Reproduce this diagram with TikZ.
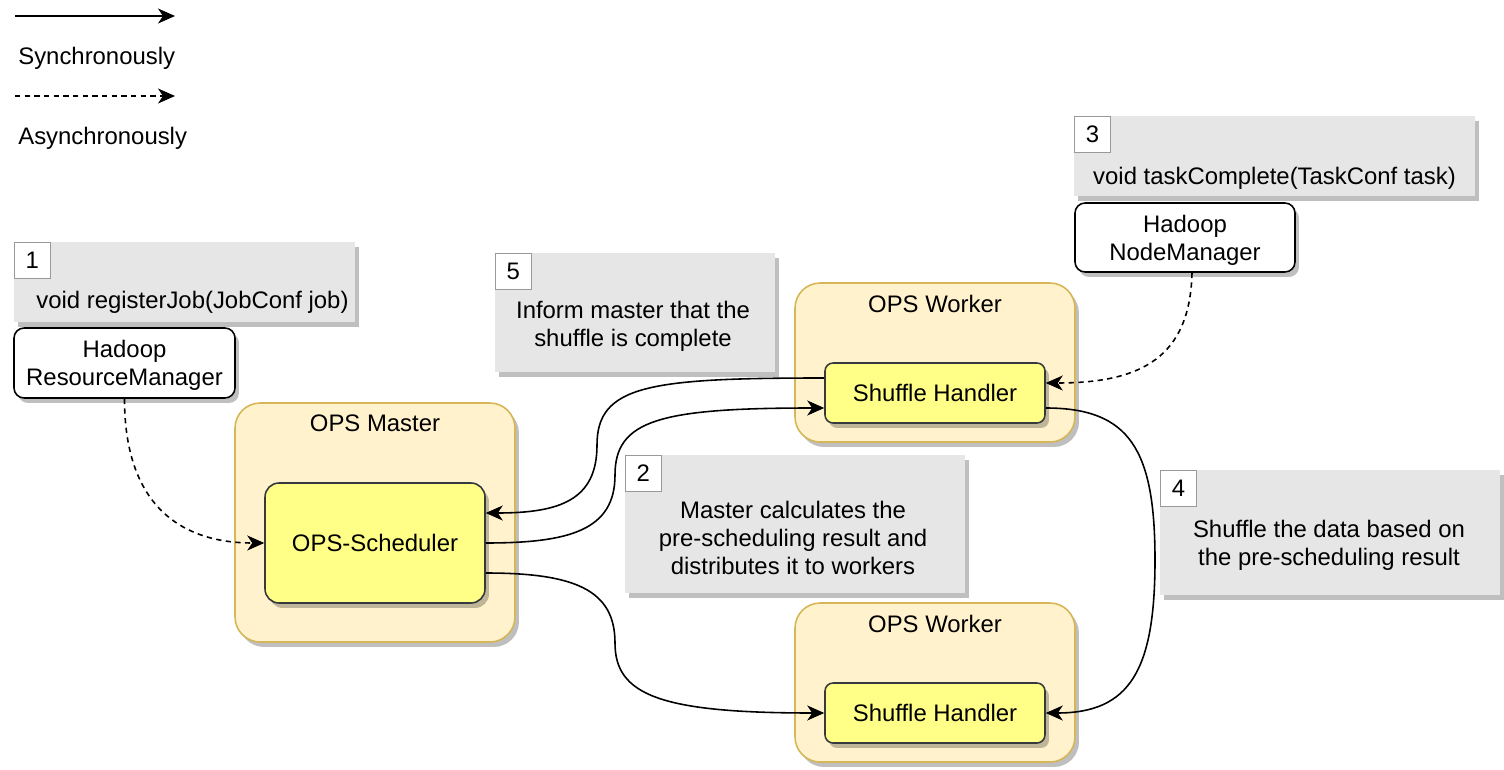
\documentclass[tikz,border=0pt]{standalone}
\usepackage{fontspec}
\setmainfont{Liberation Sans}
\usetikzlibrary{positioning, calc, shadows, arrows.meta}

\definecolor{boxfill}{HTML}{FFF2CC}
\definecolor{boxline}{HTML}{D6B656}
\definecolor{corefill}{HTML}{FFFF88}
\definecolor{coreline}{HTML}{36393D}
\definecolor{notefill}{HTML}{E6E6E6}

\tikzset{
    shade/.style={general shadow={fill=black, opacity=0.25, shadow xshift=0.08cm, shadow yshift=-0.1cm}},
    note/.style={rectangle, fill=notefill, shade, inner sep=0pt},
    numbox/.style={rectangle, draw=gray!80, fill=white, line width=0.8pt, minimum size=0.72cm, inner sep=0pt, anchor=north west},
    notetext/.style={align=center, inner sep=0pt},
    host/.style={rectangle, rounded corners=0.2cm, draw=black, fill=white, line width=0.9pt, shade, align=center, text height=28.8pt, minimum width=4.42cm, minimum height=1.4cm},
    container/.style={rectangle, rounded corners=0.5cm, draw=boxline, fill=boxfill, line width=0.9pt, shade, minimum width=5.6cm},
    title/.style={anchor=center, yshift=-0.43cm, inner sep=0pt},
    core/.style={rectangle, draw=coreline, fill=corefill, line width=0.9pt, shade, minimum width=4.4cm},
    sync/.style={line width=0.9pt, -{Stealth[length=0.34cm, width=0.3cm, inset=0.1cm]}},
    async/.style={sync, dash pattern=on 3pt off 2.5pt},
}

\begin{document}
\begin{tikzpicture}[x=0.02cm, y=-0.02cm, font=\fontsize{13.6}{15.9}\selectfont]
        \useasboundingbox (0,0) rectangle (1504,770);

        % legend
        \coordinate (s0) at (15,16);
        \coordinate (s1) at (175,16);
        \coordinate (a0) at (15,96);
        \coordinate (a1) at (175,96);
        \draw[sync] (s0) -- (s1);
        \draw[async] (a0) -- (a1);
        \node[anchor=west, inner sep=0pt] (synctxt) at (18,58) {Synchronously};
        \node[anchor=west, inner sep=0pt] (asynctxt) at (18,138) {Asynchronously};

        % the notes
        \node[note, minimum width=6.82cm, minimum height=1.6cm] (n1) at (184.5,282) {};
        \node[numbox] (k1) at (n1.north west) {1};
        \node[notetext] (t1) at ($ (n1.center)+(8,20) $) {void registerJob(JobConf job)};

        \node[note, minimum width=5.6cm, minimum height=2.38cm] (n5) at (635,312.5) {};
        \node[numbox] (k5) at (n5.north west) {5};
        \node[notetext] (t5) at ($ (n5.center)+(-2,13.5) $) {Inform master that the\\shuffle is complete};

        \node[note, minimum width=8.02cm, minimum height=1.6cm] (n3) at (1274.5,156) {};
        \node[numbox] (k3) at (n3.north west) {3};
        \node[notetext] (t3) at ($ (n3.center)+(0,22) $) {void taskComplete(TaskConf task)};

        \node[note, minimum width=6.8cm, minimum height=2.76cm] (n2) at (795,524) {};
        \node[numbox] (k2) at (n2.north west) {2};
        \node[notetext] (t2) at ($ (n2.center)+(-2,14) $) {Master calculates the\\pre-scheduling result and\\distributes it to workers};

        \node[note, minimum width=6.8cm, minimum height=2.5cm] (n4) at (1330,532.5) {};
        \node[numbox] (k4) at (n4.north west) {4};
        \node[notetext] (t4) at ($ (n4.center)+(-1,12.5) $) {Shuffle the data based on\\the pre-scheduling result};

        % hadoop side
        \node[host] (rm) at (124.5,363) {Hadoop\\ResourceManager};
        \node[host, minimum width=4.4cm, minimum height=1.38cm] (nm) at (1185,237.5) {Hadoop\\NodeManager};

        % master and workers
        \node[container, minimum height=4.78cm, label={[title]north:OPS Master}] (mst) at (375,522.5) {};
        \node[core, rounded corners=0.28cm, minimum height=2.4cm] (sch) at (375,543) {OPS-Scheduler};

        \node[container, minimum height=3.18cm, label={[title]north:OPS Worker}] (w1) at (935,362.5) {};
        \node[core, rounded corners=0.16cm, minimum height=1.2cm] (sh1) at (935,393) {Shuffle Handler};

        \node[container, minimum height=3.18cm, label={[title]north:OPS Worker}] (w2) at (935,682.5) {};
        \node[core, rounded corners=0.16cm, minimum height=1.2cm] (sh2) at (935,713) {Shuffle Handler};

        % asynchronous calls
        \draw[async] (rm.south) .. controls ($ (rm.south)+(0,105) $) and ($ (sch.west)+(-85,0) $) .. (sch.west);
        \draw[async] ($ (nm.south)+(7,0) $) .. controls ($ (nm.south)+(5,85) $) and ($ (sh1.east)+(95,-10) $) .. ($ (sh1.east)+(0,-10) $);

        % synchronous calls
        \draw[sync] ($ (sh1.west)+(0,-15) $) .. controls (650,378) and (597,385) .. (597,445)
                    .. controls (597,500) and (560,513) .. ($ (sch.east)+(0,-30) $);
        \draw[sync] (sch.east) .. controls (570,543) and (615,530) .. (615,475)
                    .. controls (615,420) and (660,408) .. ($ (sh1.west)+(0,15) $);
        \draw[sync] ($ (sch.east)+(0,30) $) .. controls (575,573) and (615,590) .. (615,643)
                    .. controls (615,695) and (660,713) .. (sh2.west);
        \draw[sync] ($ (sh1.east)+(0,15) $) .. controls (1130,408) and (1155,450) .. (1155,560)
                    .. controls (1155,670) and (1130,713) .. (sh2.east);
    \end{tikzpicture}
\end{document}
